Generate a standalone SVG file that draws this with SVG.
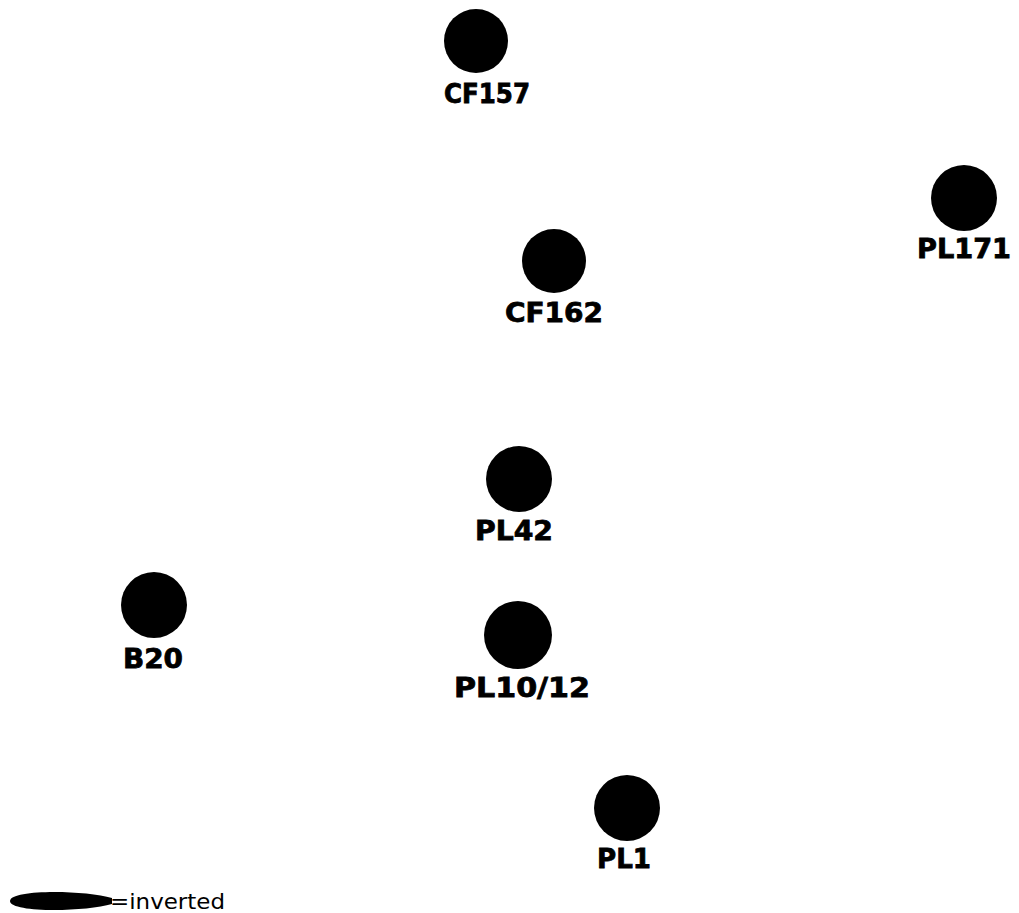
<svg xmlns="http://www.w3.org/2000/svg" width="1019" height="913" viewBox="0 0 1019 913">
<style>
.n{fill:#000}
.l{font-family:"DejaVu Sans",sans-serif;font-weight:bold;font-size:27px;fill:#000;text-anchor:middle;stroke:#000;stroke-width:0.8}
.leg{font-family:"DejaVu Sans",sans-serif;font-size:22px;fill:#000}
</style>
<rect width="1019" height="913" fill="#fff"/>
<g id="connectors"></g>
<g id="CF157"><circle class="n" cx="476" cy="41" r="32"/><text class="l" x="487" y="103" textLength="86" lengthAdjust="spacingAndGlyphs">CF157</text></g>
<g id="PL171"><circle class="n" cx="964" cy="198" r="33"/><text class="l" x="964" y="258" textLength="94" lengthAdjust="spacingAndGlyphs">PL171</text></g>
<g id="CF162"><circle class="n" cx="554" cy="261" r="32"/><text class="l" x="554" y="322" textLength="98" lengthAdjust="spacingAndGlyphs">CF162</text></g>
<g id="PL42"><circle class="n" cx="519" cy="479" r="33"/><text class="l" x="514" y="540" textLength="78" lengthAdjust="spacingAndGlyphs">PL42</text></g>
<g id="B20"><circle class="n" cx="154" cy="605" r="33"/><text class="l" x="153" y="668" textLength="60" lengthAdjust="spacingAndGlyphs">B20</text></g>
<g id="PL10_12"><circle class="n" cx="518" cy="635" r="34"/><text class="l" x="522" y="697" textLength="136" lengthAdjust="spacingAndGlyphs">PL10/12</text></g>
<g id="PL1"><circle class="n" cx="627" cy="808" r="33"/><text class="l" x="624" y="868" textLength="54" lengthAdjust="spacingAndGlyphs">PL1</text></g>
<g id="legend"><path class="n" d="M10,901 C10,889 85,890 112,898 L112,904 C85,912 10,913 10,901 Z"/><text class="leg" x="110" y="909" textLength="115" lengthAdjust="spacingAndGlyphs">=inverted</text></g>
</svg>
